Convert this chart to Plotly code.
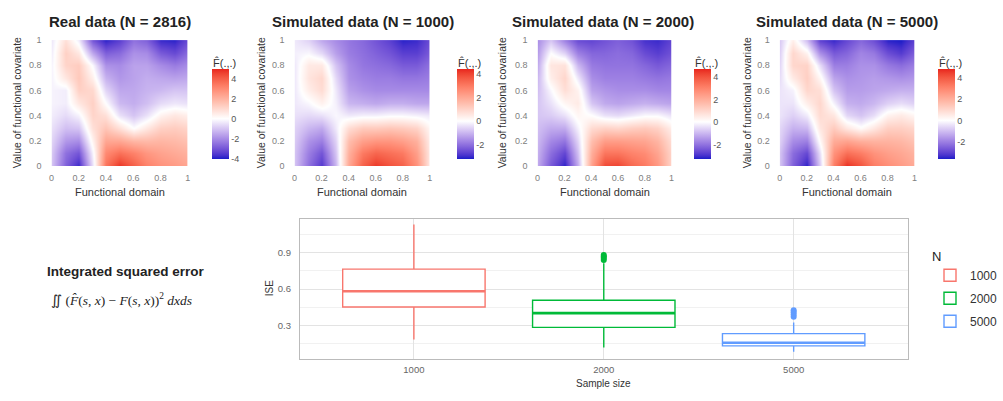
import plotly.graph_objects as go

# ---------------- data ----------------
grid = [0.0, 0.1, 0.2, 0.3, 0.4, 0.5, 0.6, 0.7, 0.8, 0.9, 1.0]

# rows: functional covariate value 0 -> 1 ; columns: functional domain 0 -> 1
real_data = [
    [-1.0, -2.8, -3.8, -0.5, 3.5, 4.8, 4.0, 3.2, 2.8, 2.6, 2.3],
    [-0.9, -2.5, -3.0, -0.2, 3.0, 3.6, 3.2, 2.7, 2.4, 2.2, 2.0],
    [-0.7, -1.8, -2.0, 0.3, 2.3, 2.3, 1.9, 1.8, 1.9, 1.8, 1.6],
    [-0.5, -1.1, -1.0, 0.8, 1.5, 0.8, 0.0, 0.6, 1.2, 1.3, 1.1],
    [-0.3, -0.6, -0.2, 1.1, 0.8, -0.5, -1.0, -0.5, 0.3, 0.6, 0.4],
    [-0.2, -0.3, 0.6, 1.2, 0.0, -1.2, -1.4, -1.1, -0.6, -0.4, -0.5],
    [-0.2, -0.3, 1.2, 1.0, -0.7, -1.5, -1.5, -1.3, -1.2, -1.0, -1.0],
    [-0.2, 0.6, 1.4, 0.4, -1.3, -1.8, -1.6, -1.4, -1.5, -1.6, -1.5],
    [-0.2, 1.1, 1.3, -0.1, -1.9, -2.0, -1.6, -1.6, -2.0, -2.3, -2.0],
    [-0.3, 1.2, 0.6, -1.5, -2.8, -2.6, -1.9, -2.0, -2.9, -3.2, -2.6],
    [-0.4, 0.8, -0.3, -3.0, -3.9, -3.4, -2.5, -2.8, -3.8, -3.9, -3.2],
]
sim_1000 = [
    [-0.8, -2.0, -2.8, -1.0, 2.0, 3.5, 4.2, 3.8, 3.5, 2.5, 0.5],
    [-0.8, -1.8, -2.4, -0.8, 1.8, 3.0, 3.4, 3.2, 3.0, 2.2, 0.5],
    [-0.7, -1.5, -1.8, -0.6, 1.5, 2.2, 2.4, 2.4, 2.2, 1.8, 0.4],
    [-0.6, -1.0, -1.2, -0.3, 0.8, 1.2, 1.2, 1.3, 1.2, 1.0, 0.2],
    [-0.4, -0.5, -0.4, -0.1, -0.3, -0.2, -0.2, -0.1, -0.1, -0.2, -0.3],
    [-0.3, -0.1, 0.3, -0.2, -1.0, -1.1, -1.2, -1.1, -1.1, -1.2, -1.2],
    [-0.3, 0.4, 0.8, -0.3, -1.3, -1.5, -1.6, -1.6, -1.6, -1.6, -1.6],
    [-0.3, 0.6, 0.9, -0.5, -1.5, -1.7, -1.8, -1.8, -1.9, -1.9, -1.8],
    [-0.3, 0.5, 0.5, -0.8, -1.6, -1.9, -2.0, -2.1, -2.3, -2.3, -2.0],
    [-0.2, -0.1, -0.5, -1.3, -1.8, -2.0, -2.2, -2.4, -2.7, -2.7, -2.3],
    [-0.3, -0.6, -1.2, -1.6, -1.9, -2.1, -2.4, -2.7, -3.1, -3.0, -2.5],
]
sim_2000 = [
    [-1.2, -2.4, -3.2, -1.2, 2.3, 4.2, 4.3, 3.6, 3.2, 2.5, 1.0],
    [-1.1, -2.1, -2.7, -0.9, 2.0, 3.3, 3.3, 3.0, 2.8, 2.2, 1.0],
    [-1.0, -1.7, -2.0, -0.6, 1.6, 2.4, 2.4, 2.3, 2.2, 1.8, 0.8],
    [-0.9, -1.2, -1.2, -0.2, 0.9, 1.1, 1.0, 1.2, 1.3, 1.1, 0.4],
    [-0.8, -0.7, -0.4, 0.2, 0.0, -0.4, -0.5, -0.3, -0.1, -0.1, -0.4],
    [-0.8, -0.4, 0.2, 0.5, -0.8, -1.2, -1.3, -1.2, -1.1, -1.2, -1.3],
    [-0.9, -0.1, 0.8, 0.3, -1.3, -1.5, -1.6, -1.6, -1.6, -1.7, -1.7],
    [-1.0, 0.4, 1.0, -0.3, -1.6, -1.8, -1.8, -1.8, -1.9, -2.0, -1.9],
    [-1.2, 0.6, 0.7, -1.0, -1.9, -2.0, -2.0, -2.0, -2.2, -2.4, -2.2],
    [-1.4, 0.0, -0.6, -1.8, -2.2, -2.2, -2.1, -2.2, -2.6, -2.8, -2.5],
    [-1.6, -0.8, -1.8, -2.6, -2.7, -2.5, -2.3, -2.5, -3.0, -3.1, -2.7],
]
sim_5000 = [
    [-0.9, -2.5, -3.5, -0.8, 3.2, 4.7, 4.1, 3.2, 2.8, 2.5, 2.1],
    [-0.9, -2.3, -2.9, -0.5, 2.7, 3.5, 3.2, 2.7, 2.4, 2.2, 1.9],
    [-0.7, -1.8, -2.0, 0.1, 2.1, 2.3, 2.0, 1.9, 1.9, 1.8, 1.5],
    [-0.6, -1.2, -1.1, 0.6, 1.3, 0.6, 0.1, 0.6, 1.2, 1.2, 1.0],
    [-0.4, -0.7, -0.3, 0.9, 0.6, -0.6, -0.9, -0.5, 0.3, 0.5, 0.2],
    [-0.4, -0.4, 0.4, 1.0, -0.2, -1.2, -1.3, -1.1, -0.7, -0.5, -0.7],
    [-0.4, -0.2, 1.0, 0.8, -0.9, -1.5, -1.5, -1.4, -1.3, -1.2, -1.2],
    [-0.5, 0.5, 1.2, 0.2, -1.4, -1.7, -1.6, -1.5, -1.6, -1.7, -1.6],
    [-0.6, 1.0, 1.1, -0.5, -2.0, -2.0, -1.7, -1.7, -2.1, -2.3, -2.0],
    [-0.7, 1.0, 0.3, -1.7, -2.6, -2.4, -1.9, -2.1, -2.8, -3.1, -2.5],
    [-0.8, 0.4, -1.0, -3.0, -3.4, -2.9, -2.4, -2.8, -3.5, -3.6, -3.0],
]

panel_titles = ["Real data (N = 2816)", "Simulated data (N = 1000)",
                "Simulated data (N = 2000)", "Simulated data (N = 5000)"]
panel_fields = [real_data, sim_1000, sim_2000, sim_5000]
scale_limits = [(-4.03, 4.97), (-3.2, 4.4), (-3.3, 4.7), (-3.6, 4.8)]
scale_ticks = [[-4, -2, 0, 2, 4], [-2, 0, 2, 4], [-2, 0, 2, 4], [-2, 0, 2, 4]]
x_ticks = [0, 0.2, 0.4, 0.6, 0.8, 1]
x_tick_labels = ["0", "0.2", "0.4", "0.6", "0.8", "1"]

sample_sizes = ["1000", "2000", "5000"]
ise_q1 = [0.452, 0.284, 0.132]
ise_median = [0.582, 0.402, 0.158]
ise_q3 = [0.764, 0.508, 0.233]
ise_lower = [0.185, 0.118, 0.084]
ise_upper = [1.132, 0.812, 0.324]
ise_outliers = [[], [0.84, 0.855, 0.868, 0.88], [0.372, 0.39, 0.408, 0.425]]
ise_ticks = [0.3, 0.6, 0.9]

# ---------------- styling helpers ----------------
W, H = 1003, 401
def px(x):
    return x / W
def py(y):
    return 1 - y / H

def hex2rgb(h):
    h = h.lstrip("#")
    return [int(h[i:i + 2], 16) for i in (0, 2, 4)]

def rgb2lab(rgb):
    c = []
    for v in rgb:
        v = v / 255
        c.append(v / 12.92 if v <= 0.04045 else ((v + 0.055) / 1.055) ** 2.4)
    r, g, b = c
    X = (0.4124 * r + 0.3576 * g + 0.1805 * b) / 0.95047
    Y = (0.2126 * r + 0.7152 * g + 0.0722 * b)
    Z = (0.0193 * r + 0.1192 * g + 0.9505 * b) / 1.08883
    f = lambda t: t ** (1 / 3) if t > 0.008856 else 7.787 * t + 16 / 116
    fx, fy, fz = f(X), f(Y), f(Z)
    return [116 * fy - 16, 500 * (fx - fy), 200 * (fy - fz)]

def lab2rgb(lab):
    L, a, b = lab
    fy = (L + 16) / 116
    fx = fy + a / 500
    fz = fy - b / 200
    finv = lambda t: t ** 3 if t ** 3 > 0.008856 else (t - 16 / 116) / 7.787
    X, Y, Z = finv(fx) * 0.95047, finv(fy), finv(fz) * 1.08883
    r = 3.2406 * X - 1.5372 * Y - 0.4986 * Z
    g = -0.9689 * X + 1.8758 * Y + 0.0415 * Z
    bb = 0.0557 * X - 0.2040 * Y + 1.0570 * Z
    out = []
    for v in (r, g, bb):
        v = max(0.0, v)
        v = 12.92 * v if v <= 0.0031308 else 1.055 * v ** (1 / 2.4) - 0.055
        out.append(max(0, min(255, round(v * 255))))
    return "rgb(%d,%d,%d)" % tuple(out)

LOW, MID, HIGH = rgb2lab(hex2rgb("#1C1CC8")), rgb2lab(hex2rgb("#FFFFFF")), rgb2lab(hex2rgb("#E8261E"))

def mix(a, b, t):
    return lab2rgb([a[i] + (b[i] - a[i]) * t for i in range(3)])

def colorscale_for(zmin, zmax, n=12):
    # blue at the lower limit, white at zero, red at the upper limit
    z0 = -zmin / (zmax - zmin)
    cs = []
    for i in range(n + 1):
        t = i / n
        cs.append([z0 * t, mix(LOW, MID, t)])
    for i in range(1, n + 1):
        t = i / n
        cs.append([z0 + (1 - z0) * t, mix(MID, HIGH, t)])
    return cs

FONT = "Liberation Sans, Arial, sans-serif"
fig = go.Figure()

def note(text, x, y, size, color="#333333", angle=0, xanchor="center", family=FONT):
    return dict(text=text, x=px(x), y=py(y), xref="paper", yref="paper", showarrow=False,
                xanchor=xanchor, yanchor="middle", textangle=angle,
                font=dict(size=size, color=color, family=family))

# ---------------- heatmap panels ----------------
panel_x = [(49.5, 188.5), (297.5, 435.5), (545.5, 682), (792.5, 930)]
cb_x = [213, 463, 705, 954]
ytitle_x = [14, 263, 509, 759]
title_x = [119, 367, 612, 861]
ann = []
for k in range(4):
    ax = "" if k == 0 else str(k + 1)
    zmin, zmax = scale_limits[k]
    fig.add_trace(go.Heatmap(
        x=grid, y=grid, z=panel_fields[k], zsmooth="best",
        zmin=zmin, zmax=zmax, colorscale=colorscale_for(zmin, zmax),
        xaxis="x" + ax, yaxis="y" + ax, hoverinfo="skip",
        colorbar=dict(x=px(cb_x[k]), xanchor="left", xpad=0, ypad=0,
                      y=py(112), yanchor="middle", len=90, lenmode="pixels",
                      thickness=17, thicknessmode="pixels", outlinewidth=0,
                      tickvals=scale_ticks[k], ticktext=[str(v) for v in scale_ticks[k]],
                      ticks="", tickfont=dict(size=9, color="#555555", family=FONT)),
    ))
    x0, x1 = panel_x[k]
    fig.layout["xaxis" + ax] = dict(domain=[px(x0), px(x1)], range=[0, 1], anchor="y" + ax,
                                    tickvals=x_ticks, ticktext=x_tick_labels, showgrid=False,
                                    zeroline=False, showline=False, ticks="", ticklen=0,
                                    ticklabelstandoff=5,
                                    tickfont=dict(size=9, color="#808080", family=FONT))
    fig.layout["yaxis" + ax] = dict(domain=[py(165), py(36)], range=[0, 1], anchor="x" + ax,
                                    tickvals=x_ticks, ticktext=x_tick_labels, showgrid=False,
                                    zeroline=False, showline=False, ticks="", ticklen=0,
                                    ticklabelstandoff=9,
                                    tickfont=dict(size=9, color="#808080", family=FONT))
    ann.append(note("<b>" + panel_titles[k] + "</b>", title_x[k], 17, 15, "#222222"))
    ann.append(note("Functional domain", (x0 + x1) / 2, 192, 11))
    ann.append(note("Value of functional covariate", ytitle_x[k], 100, 10.5, angle=-90))
    ann.append(note("F\u0302(.,.)", cb_x[k] - 1, 59, 11, xanchor="left"))

# ---------------- box plot ----------------
box_colors = ["#F8766D", "#00BA38", "#619CFF"]
bw = 0.75
for i, s in enumerate(sample_sizes):
    fig.add_trace(go.Box(
        x=[i], q1=[ise_q1[i]], median=[ise_median[i]], q3=[ise_q3[i]],
        lowerfence=[ise_lower[i]], upperfence=[ise_upper[i]],
        name=s, width=bw, whiskerwidth=0, boxpoints=False,
        fillcolor="white", line=dict(color=box_colors[i], width=1.4),
        xaxis="x5", yaxis="y5", legendgroup=s, hoverinfo="skip",
    ))
for i, s in enumerate(sample_sizes):
    fig.add_trace(go.Scatter(
        x=[i - bw / 2, i + bw / 2], y=[ise_median[i], ise_median[i]], mode="lines",
        line=dict(color=box_colors[i], width=2.6), xaxis="x5", yaxis="y5",
        showlegend=False, hoverinfo="skip"))
    if ise_outliers[i]:
        fig.add_trace(go.Scatter(
            x=[i] * len(ise_outliers[i]), y=ise_outliers[i], mode="markers",
            marker=dict(color=box_colors[i], size=6), xaxis="x5", yaxis="y5",
            showlegend=False, hoverinfo="skip"))

fig.layout.xaxis5 = dict(domain=[px(303), px(923)], anchor="y5", range=[-0.6, 2.6],
                         tickvals=[0, 1, 2], ticktext=sample_sizes, ticks="", ticklen=0,
                         ticklabelstandoff=2,
                         showgrid=True, gridcolor="#E3E3E3", gridwidth=1, zeroline=False,
                         showline=True, linecolor="#BBBBBB", mirror=True,
                         tickfont=dict(size=9.5, color="#666666", family=FONT))
fig.layout.yaxis5 = dict(domain=[py(363), py(219)], anchor="x5", range=[0.024, 1.181],
                         tickvals=ise_ticks, ticktext=[str(v) for v in ise_ticks], ticks="",
                         ticklen=0,
                         showgrid=True, gridcolor="#E3E3E3", gridwidth=1, zeroline=False,
                         minor=dict(tickvals=[0.15, 0.45, 0.75, 1.05], showgrid=True,
                                    gridcolor="#F1F1F1", gridwidth=1),
                         showline=True, linecolor="#BBBBBB", mirror=True,
                         ticklabelstandoff=6,
                         tickfont=dict(size=9.5, color="#666666", family=FONT))
ann.append(note("ISE", 272, 291, 10, angle=-90))
ann.append(note("Sample size", 613, 388, 10))
ann.append(note("<b>Integrated squared error</b>", 125, 273, 13.5, "#222222"))
ann.append(note("\u222C (<i>F\u0302</i>(<i>s</i>, <i>x</i>) \u2212 <i>F</i>(<i>s</i>, <i>x</i>))<sup>2</sup> <i>dxds</i>",
                121, 302, 13.5, "#222222", family="Liberation Serif, serif"))

fig.update_layout(
    width=W, height=H, margin=dict(l=0, r=0, t=0, b=0),
    paper_bgcolor="white", plot_bgcolor="white",
    annotations=ann,
    showlegend=True,
    legend=dict(x=px(946), y=py(245), xanchor="left", yanchor="top",
                title=dict(text="N", font=dict(size=13, color="#222222", family=FONT)),
                font=dict(size=12, color="#333333", family=FONT),
                bgcolor="rgba(0,0,0,0)", tracegroupgap=4),
)

fig.write_html("out.html")
